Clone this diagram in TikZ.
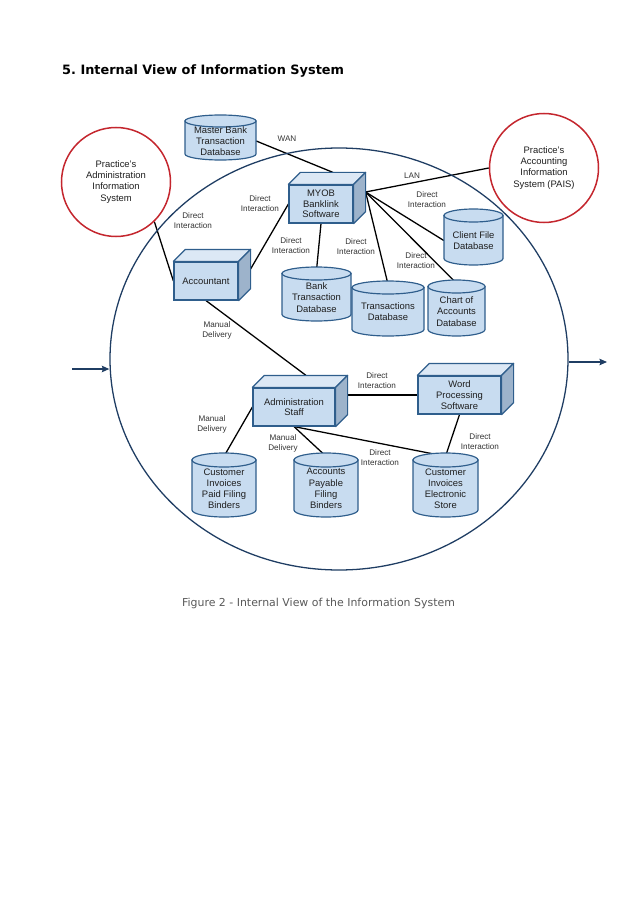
\documentclass[tikz,border=0pt]{standalone}
\usepackage{fontspec}
\setmainfont{Liberation Sans}
\newfontfamily\verdana{DejaVu Sans}
\usetikzlibrary{shapes.geometric,backgrounds,arrows.meta}
\definecolor{navy}{HTML}{1F3D63}
\definecolor{boxline}{HTML}{2F5E8C}
\definecolor{frontc}{HTML}{C8DCF0}
\definecolor{topc}{HTML}{DCE8F5}
\definecolor{sidec}{HTML}{9DB3CB}
\definecolor{redc}{HTML}{C4262E}
\definecolor{lblc}{HTML}{333333}
\definecolor{capc}{HTML}{595959}
\newcommand\pxu{0.9326pt}
\frenchspacing
\tikzset{
  front/.style={draw=boxline, fill=frontc, line width=1.1pt, inner sep=0pt, align=center,
    font=\fontsize{8.8}{10}\selectfont, text=black!88},
  topface/.style={draw=boxline, fill=topc, line width=1.1pt, line join=round},
  sideface/.style={draw=boxline, fill=sidec, line width=1.1pt, line join=round},
  cylbody/.style={draw=boxline, fill=frontc, line width=1.1pt},
  cyltext/.style={inner sep=0pt, align=center, font=\fontsize{8.8}{10.4}\selectfont, text=black!88},
  sysbox/.style={circle, draw=redc, line width=1.4pt, fill=white, align=center, inner sep=0pt,
    minimum size=109*\pxu, font=\fontsize{8.8}{10.3}\selectfont, text=black!88},
  lbl/.style={align=center, font=\fontsize{7.6}{9.4}\selectfont, text=lblc, inner sep=0pt},
  conn/.style={line width=1.2pt, black},
  flow/.style={draw=navy, line width=1.3pt, -{Stealth[length=7pt,width=6pt,inset=1pt]}},
}
\newcommand\cuboid[6]{% name, cx, cy, w, h, text
  \node[front, minimum width=#4*\pxu, minimum height=#5*\pxu] (#1) at (#2,#3) {#6};
  \path[topface] (#1.north west) -- ++(12,-12) -- ([shift={(12,-12)}]#1.north east) -- (#1.north east) -- cycle;
  \path[sideface] (#1.north east) -- ++(12,-12) -- ([shift={(12,-12)}]#1.south east) -- (#1.south east) -- cycle;
}
\newcommand\dbcyl[7]{% name, cx, top, bottom, half width, ry, text
  \path[cylbody] (#2-#5,#3+#6) -- (#2-#5,#4-#6) arc[start angle=180, end angle=0, x radius=#5, y radius=#6] -- (#2+#5,#3+#6) -- cycle;
  \path[cylbody] (#2,#3+#6) ellipse [x radius=#5, y radius=#6];
  \node[cyltext, minimum width=2*#5*\pxu, minimum height=(#4-#3)*\pxu] (#1) at (#2,{(#3+#4)/2+3.5}) {#7};
}
\begin{document}
\begin{tikzpicture}[x=0.9326pt,y=-0.9326pt]
\useasboundingbox (0,0) rectangle (638,903);

% title and caption
\node[anchor=base west, font=\verdana\bfseries\fontsize{12}{14}\selectfont, inner sep=0pt] (title) at (62,75) {5.\ Internal View of Information System};
\node[anchor=base, font=\verdana\fontsize{10.2}{12}\selectfont, text=capc, inner sep=0pt] (caption) at (318.5,606) {Figure 2 - Internal View of the Information System};

% system boundary
\node[ellipse, draw=navy, line width=1.2pt, minimum width=458*\pxu, minimum height=422*\pxu, inner sep=0pt] (sys) at (339,359) {};
\coordinate (inStart) at (72,369);
\coordinate (outEnd) at (607,362);
\draw[flow] (inStart) -- (sys.west |- inStart);
\draw[flow] (sys.east |- outEnd) -- (outEnd);

% external systems
\node[sysbox] (adm) at (116,182) {Practice's\\Administration\\Information\\System};
\node[sysbox] (pais) at (544,168) {Practice's\\Accounting\\Information\\System (PAIS)};

% boxes
\cuboid{myob}{321}{204}{64}{38}{MYOB\\Banklink\\Software}
\cuboid{acct}{206}{281}{64}{38}{Accountant}
\cuboid{admin}{294}{407}{82}{38}{Administration\\Staff}
\cuboid{word}{459.5}{395}{83}{38}{Word\\Processing\\Software}
\coordinate (myobT) at ([shift={(12,-12)}]myob.north);
\coordinate (myobR) at ([shift={(12,-12)}]myob.east);
\coordinate (acctR) at ([shift={(12,-12)}]acct.east);
\coordinate (adminT) at ([shift={(12,-12)}]admin.north);
\coordinate (adminR) at ([shift={(12,-12)}]admin.east);

% databases
\dbcyl{master}{220.5}{115}{160}{35.5}{6}{Master Bank\\Transaction\\Database}
\dbcyl{client}{473.5}{209}{265}{29.5}{6.5}{Client File\\Database}
\dbcyl{bank}{316.5}{267}{321}{34.5}{6.5}{Bank\\Transaction\\Database}
\dbcyl{trans}{388}{281}{336}{36}{6.5}{Transactions\\Database}
\dbcyl{chart}{456.5}{280}{336}{28.5}{6.5}{Chart of\\Accounts\\Database}
\dbcyl{cpaid}{224}{453}{517}{32}{7}{Customer\\Invoices\\Paid Filing\\Binders}
\dbcyl{ap}{326}{453}{517}{32}{7}{Accounts\\Payable\\Filing\\Binders}
\dbcyl{elec}{445.5}{453}{517}{32.5}{7}{Customer\\Invoices\\Electronic\\Store}

% connectors
\begin{pgfonlayer}{background}
\draw[conn] (master.east) -- (myobT);
\draw[conn] (myobR) -- (pais.west);
\draw[conn] (myobR) -- (client.west);
\draw[conn] (myobR) -- (chart.north);
\draw[conn] (myobR) -- (trans.north);
\draw[conn] (myob.south) -- (bank.north);
\draw[conn] (myob.west) -- (acctR);
\draw[conn] (adm.-46) -- (acct.west);
\draw[conn] (acct.south) -- (adminT);
\draw[conn] (adminR) -- (word.west);
\draw[conn] (admin.west) -- (cpaid.north);
\draw[conn] (admin.south) -- (ap.north);
\draw[conn] (admin.south) -- (elec.north);
\draw[conn] (word.south) -- (elec.north);
\end{pgfonlayer}

% labels
\node[lbl] (lWAN) at (287,139) {WAN};
\node[lbl] (lLAN) at (412,176) {LAN};
\node[lbl] (lClient) at (427,200) {Direct\\Interaction};
\node[lbl] (lChart) at (416,261) {Direct\\Interaction};
\node[lbl] (lTrans) at (356,247) {Direct\\Interaction};
\node[lbl] (lBank) at (291,246) {Direct\\Interaction};
\node[lbl] (lAcctMyob) at (260,204) {Direct\\Interaction};
\node[lbl] (lAdmAcct) at (193,221) {Direct\\Interaction};
\node[lbl] (lManual1) at (217,330) {Manual\\Delivery};
\node[lbl] (lAdminWord) at (377,381) {Direct\\Interaction};
\node[lbl] (lManual2) at (212,424) {Manual\\Delivery};
\node[lbl] (lManual3) at (283,443) {Manual\\Delivery};
\node[lbl] (lElec) at (380,458) {Direct\\Interaction};
\node[lbl] (lWordElec) at (480,442) {Direct\\Interaction};
\end{tikzpicture}
\end{document}
